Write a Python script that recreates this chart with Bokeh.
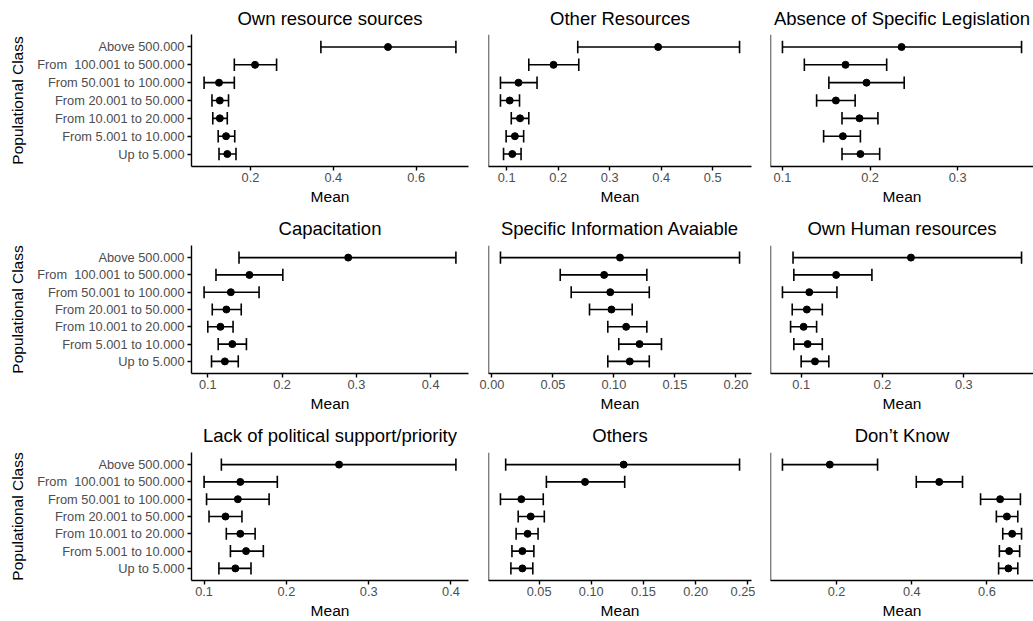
from bokeh.plotting import figure
from bokeh.layouts import row, column
from bokeh.models import (ColumnDataSource, FactorRange, Range1d, FixedTicker,
                          NumeralTickFormatter, Span)
from bokeh.transform import dodge
from bokeh.embed import file_html
from bokeh.resources import INLINE

# Population classes, listed from the top row to the bottom row
classes = [
    "Above 500.000",
    "From\u00a0 100.001 to 500.000",
    "From 50.001 to 100.000",
    "From 20.001 to 50.000",
    "From 10.001 to 20.000",
    "From 5.001 to 10.000",
    "Up to 5.000",
]

# Means and confidence bounds per barrier (same order as classes)
own_res_mean = [0.532, 0.211, 0.124, 0.126, 0.126, 0.141, 0.144]
own_res_lo = [0.370, 0.161, 0.088, 0.107, 0.109, 0.122, 0.124]
own_res_hi = [0.696, 0.263, 0.161, 0.147, 0.144, 0.162, 0.165]

other_res_mean = [0.394, 0.191, 0.123, 0.106, 0.126, 0.116, 0.111]
other_res_lo = [0.238, 0.143, 0.088, 0.088, 0.109, 0.099, 0.094]
other_res_hi = [0.552, 0.240, 0.159, 0.125, 0.143, 0.133, 0.128]

legislation_mean = [0.236, 0.172, 0.196, 0.161, 0.188, 0.169, 0.189]
legislation_lo = [0.100, 0.125, 0.153, 0.139, 0.168, 0.147, 0.168]
legislation_hi = [0.373, 0.219, 0.239, 0.183, 0.209, 0.189, 0.211]

capacitation_mean = [0.289, 0.156, 0.131, 0.125, 0.117, 0.133, 0.123]
capacitation_lo = [0.142, 0.111, 0.095, 0.106, 0.100, 0.114, 0.105]
capacitation_hi = [0.434, 0.201, 0.169, 0.145, 0.134, 0.152, 0.141]

information_mean = [0.105, 0.092, 0.097, 0.098, 0.110, 0.121, 0.113]
information_lo = [0.007, 0.056, 0.065, 0.080, 0.095, 0.104, 0.095]
information_hi = [0.203, 0.127, 0.129, 0.115, 0.127, 0.139, 0.129]

human_res_mean = [0.235, 0.143, 0.110, 0.107, 0.103, 0.108, 0.117]
human_res_lo = [0.090, 0.091, 0.077, 0.089, 0.087, 0.091, 0.100]
human_res_hi = [0.371, 0.187, 0.144, 0.126, 0.119, 0.126, 0.134]

political_mean = [0.264, 0.144, 0.141, 0.126, 0.144, 0.151, 0.138]
political_lo = [0.121, 0.100, 0.103, 0.106, 0.127, 0.132, 0.118]
political_hi = [0.406, 0.189, 0.179, 0.146, 0.162, 0.172, 0.157]

others_mean = [0.131, 0.094, 0.033, 0.042, 0.039, 0.034, 0.034]
others_lo = [0.018, 0.057, 0.013, 0.030, 0.028, 0.024, 0.023]
others_hi = [0.242, 0.132, 0.054, 0.055, 0.049, 0.045, 0.044]

dont_know_mean = [0.182, 0.473, 0.635, 0.653, 0.667, 0.659, 0.657]
dont_know_lo = [0.056, 0.412, 0.583, 0.625, 0.642, 0.633, 0.631]
dont_know_hi = [0.309, 0.535, 0.689, 0.682, 0.692, 0.687, 0.682]

# X tick values for each panel
ticks_own_res = [0.2, 0.4, 0.6]
ticks_other_res = [0.1, 0.2, 0.3, 0.4, 0.5]
ticks_legislation = [0.1, 0.2, 0.3]
ticks_capacitation = [0.1, 0.2, 0.3, 0.4]
ticks_information = [0.0, 0.05, 0.10, 0.15, 0.20]
ticks_human_res = [0.1, 0.2, 0.3]
ticks_political = [0.1, 0.2, 0.3, 0.4]
ticks_others = [0.05, 0.10, 0.15, 0.20, 0.25]
ticks_dont_know = [0.2, 0.4, 0.6]

panels = [
    ("Own resource sources", own_res_mean, own_res_lo, own_res_hi, ticks_own_res, "0.0"),
    ("Other Resources", other_res_mean, other_res_lo, other_res_hi, ticks_other_res, "0.0"),
    ("Absence of Specific Legislation", legislation_mean, legislation_lo, legislation_hi, ticks_legislation, "0.0"),
    ("Capacitation", capacitation_mean, capacitation_lo, capacitation_hi, ticks_capacitation, "0.0"),
    ("Specific Information Avaiable", information_mean, information_lo, information_hi, ticks_information, "0.00"),
    ("Own Human resources", human_res_mean, human_res_lo, human_res_hi, ticks_human_res, "0.0"),
    ("Lack of political support/priority", political_mean, political_lo, political_hi, ticks_political, "0.0"),
    ("Others", others_mean, others_lo, others_hi, ticks_others, "0.00"),
    ("Don\u2019t Know", dont_know_mean, dont_know_lo, dont_know_hi, ticks_dont_know, "0.0"),
]

FONT = "Liberation Sans"
INK = "black"
TICK_GREY = "#4D4D4D"
LW = 1.4

# column geometry: total width, left border, right border
COLS = [(474, 191, 6), (281, 14, 4), (278, 15, 0)]
# row geometry: total height, top border, bottom border, title standoff
ROWS = [(207, 34, 40, 11), (207, 38, 40, 13), (207, 38, 38, 13)]


def make_panel(idx, title, mean, lo, hi, ticks, fmt):
    ci, ri = idx % 3, idx // 3
    w, bl, br = COLS[ci]
    h, bt, bb, ts = ROWS[ri]

    span = max(hi) - min(lo)
    xr = Range1d(min(lo) - 0.05 * span, max(hi) + 0.05 * span)
    yr = FactorRange(factors=list(reversed(classes)), range_padding=0.2,
                     range_padding_units="absolute")

    p = figure(width=w, height=h, x_range=xr, y_range=yr,
               output_backend="svg", toolbar_location=None,
               y_axis_location=("left" if ci == 0 else None),
               min_border_left=bl, min_border_right=br,
               min_border_top=bt, min_border_bottom=bb,
               background_fill_color="white", border_fill_color="white")
    p.outline_line_color = None
    p.grid.visible = False

    p.title.text = title
    p.title.align = "center"
    p.title.text_font = FONT
    p.title.text_font_size = "18.5px"
    p.title.text_font_style = "normal"
    p.title.text_color = INK
    p.title.standoff = ts

    src = ColumnDataSource(dict(cls=classes, mean=mean, lo=lo, hi=hi))
    # horizontal interval
    p.segment(x0="lo", y0="cls", x1="hi", y1="cls", source=src,
              line_color=INK, line_width=1.6)
    # end caps
    for end in ("lo", "hi"):
        p.segment(x0=end, y0=dodge("cls", -0.35, range=yr),
                  x1=end, y1=dodge("cls", 0.35, range=yr), source=src,
                  line_color=INK, line_width=1.6)
    p.scatter(x="mean", y="cls", source=src, size=7,
              fill_color=INK, line_color=INK)

    xa = p.xaxis[0]
    xa.ticker = FixedTicker(ticks=ticks)
    xa.formatter = NumeralTickFormatter(format=fmt)
    xa.axis_label = "Mean"
    xa.axis_label_text_font = FONT
    xa.axis_label_text_font_size = "15.5px"
    xa.axis_label_text_font_style = "normal"
    xa.axis_label_text_color = INK
    xa.axis_label_standoff = 3
    xa.major_label_text_font = FONT
    xa.major_label_text_font_size = "12.8px"
    xa.major_label_text_color = TICK_GREY
    xa.major_label_standoff = 2
    xa.axis_line_color = INK
    xa.axis_line_width = LW
    xa.major_tick_line_color = INK
    xa.major_tick_line_width = LW
    xa.major_tick_out = 4
    xa.major_tick_in = 0
    xa.minor_tick_line_color = None

    if ci == 0:
        ya = p.yaxis[0]
        ya.axis_line_color = INK
        ya.axis_line_width = LW
        ya.minor_tick_line_color = None
        ya.axis_label = "Populational Class"
        ya.axis_label_text_font = FONT
        ya.axis_label_text_font_size = "15.5px"
        ya.axis_label_text_font_style = "normal"
        ya.axis_label_text_color = INK
        ya.axis_label_standoff = 8
        ya.major_label_text_font = FONT
        ya.major_label_text_font_size = "12.8px"
        ya.major_label_text_color = TICK_GREY
        ya.major_label_standoff = 3
        ya.major_tick_line_color = INK
        ya.major_tick_line_width = LW
        ya.major_tick_out = 4
        ya.major_tick_in = 0
    else:
        # plain vertical axis line along the left edge of the frame
        p.add_layout(Span(location=xr.start, dimension="height",
                          line_color=INK, line_width=LW))
    return p


figs = [make_panel(i, *spec) for i, spec in enumerate(panels)]
layout = column(row(*figs[0:3]), row(*figs[3:6]), row(*figs[6:9]))

open("out.html", "w").write(file_html(layout, INLINE))
